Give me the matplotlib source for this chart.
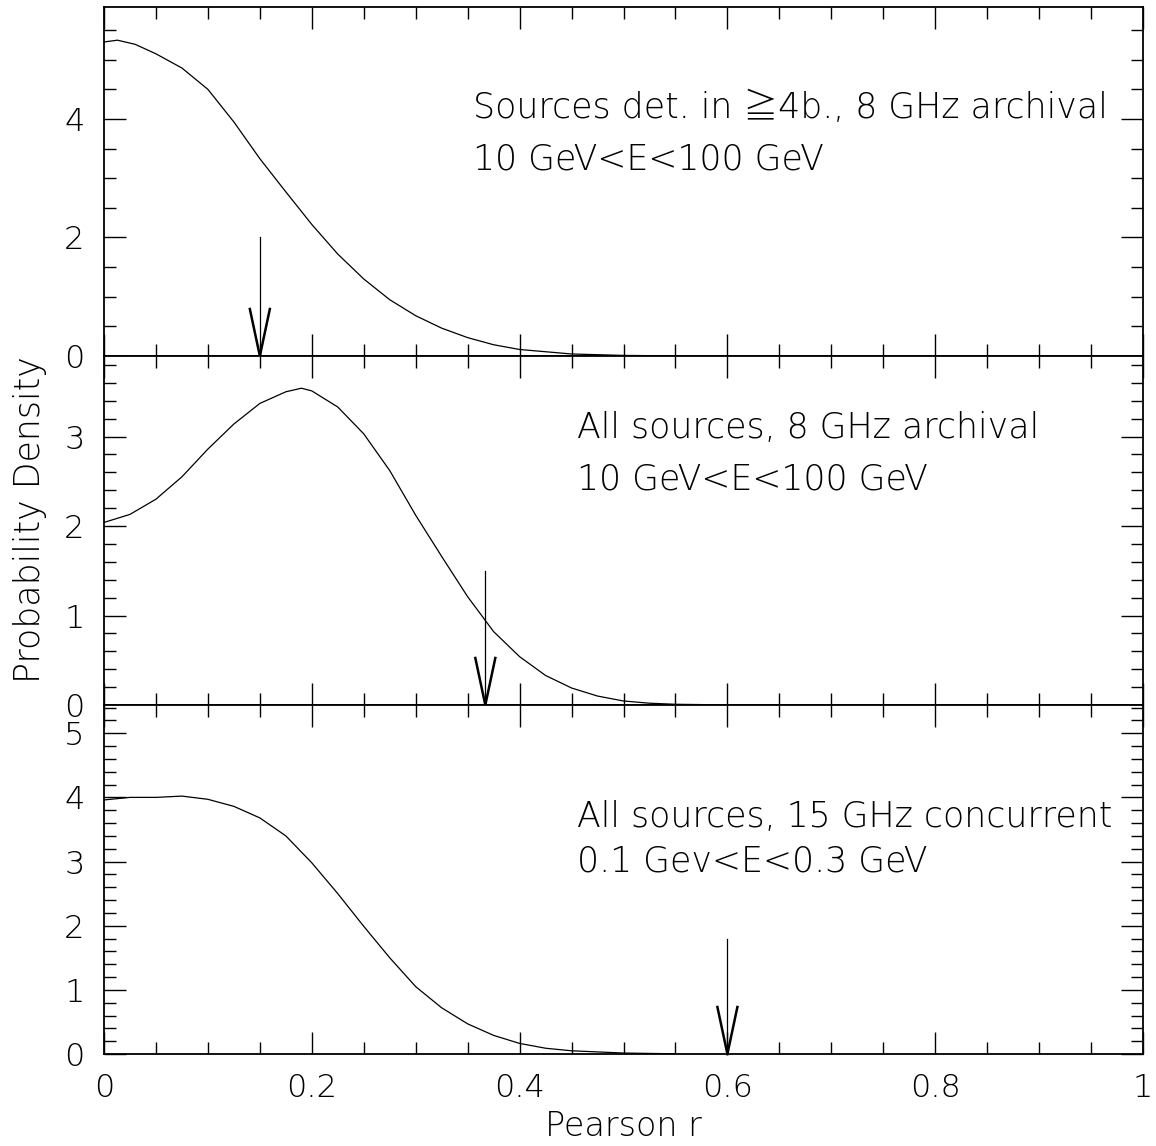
import numpy as np
import matplotlib
matplotlib.use('Agg')
import matplotlib.pyplot as plt
from matplotlib.ticker import MultipleLocator, FuncFormatter

# panel 1: sources detected in >=4 bands, 8 GHz archival
r_top = [0.0, 0.013, 0.03, 0.05, 0.075, 0.1, 0.125, 0.15, 0.175, 0.2, 0.225,
         0.25, 0.275, 0.3, 0.325, 0.35, 0.375, 0.4, 0.45, 0.5, 0.55]
p_top = [5.30, 5.33, 5.26, 5.10, 4.86, 4.50, 3.95, 3.33, 2.77, 2.22, 1.72,
         1.30, 0.95, 0.68, 0.47, 0.31, 0.19, 0.11, 0.034, 0.01, 0.002]

# panel 2: all sources, 8 GHz archival
r_mid = [0.0, 0.025, 0.05, 0.075, 0.1, 0.125, 0.15, 0.175, 0.19, 0.2, 0.225,
         0.25, 0.275, 0.3, 0.325, 0.35, 0.375, 0.4, 0.425, 0.45, 0.475, 0.5,
         0.525, 0.55, 0.6]
p_mid = [2.04, 2.13, 2.30, 2.55, 2.86, 3.14, 3.37, 3.50, 3.54, 3.51, 3.33,
         3.03, 2.62, 2.12, 1.66, 1.21, 0.82, 0.54, 0.33, 0.19, 0.10, 0.045,
         0.02, 0.008, 0.001]

# panel 3: all sources, 15 GHz concurrent
r_bot = [0.0, 0.025, 0.05, 0.075, 0.1, 0.125, 0.15, 0.175, 0.2, 0.225, 0.25,
         0.275, 0.3, 0.325, 0.35, 0.375, 0.4, 0.425, 0.45, 0.5, 0.55]
p_bot = [3.96, 4.00, 4.00, 4.02, 3.97, 3.86, 3.68, 3.40, 2.98, 2.50, 1.99,
         1.50, 1.05, 0.72, 0.47, 0.29, 0.165, 0.09, 0.05, 0.015, 0.003]

labels = [["Sources det. in \u22674b., 8 GHz archival", "10 GeV<E<100 GeV"],
          ["All sources, 8 GHz archival", "10 GeV<E<100 GeV"],
          ["All sources, 15 GHz concurrent", "0.1 Gev<E<0.3 GeV"]]
arrow_x = [0.15, 0.367, 0.6]
arrow_top = [2.0, 1.5, 1.79]
ymax = [5.89, 3.90, 5.44]
ymajor = [2, 1, 1]
yminor = [0.5, 0.2, 0.2]

plt.rcParams['font.family'] = ['DejaVu Sans', 'Noto Sans CJK JP']
plt.rcParams['font.weight'] = 200

fig = plt.figure(figsize=(11.56, 11.46), dpi=100)
W, H = 1156, 1146
left, right = 104, 1143
tops = [7, 356, 705]
h = 349

series = [(r_top, p_top), (r_mid, p_mid), (r_bot, p_bot)]
text_pos = [(473, [108, 160]), (577, [428, 480]), (577, [817, 862])]


def fmt(v, pos):
    return '%g' % round(v, 2)


axes = []
for i in range(3):
    ax = fig.add_axes([left / W, 1 - (tops[i] + h) / H, (right - left) / W, h / H])
    axes.append(ax)
    ax.plot(series[i][0], series[i][1], color='black', lw=0.9)
    ax.set_xlim(0, 1)
    ax.set_ylim(0, ymax[i])
    ax.xaxis.set_major_locator(MultipleLocator(0.2))
    ax.xaxis.set_minor_locator(MultipleLocator(0.05))
    ax.xaxis.set_major_formatter(FuncFormatter(fmt))
    ax.yaxis.set_major_locator(MultipleLocator(ymajor[i]))
    ax.yaxis.set_minor_locator(MultipleLocator(yminor[i]))
    ax.tick_params(which='both', direction='in', top=True, right=True, width=1.0)
    ax.tick_params(which='major', length=16, pad=14, labelsize=23)
    ax.tick_params(which='minor', length=8.5)
    for s in ax.spines.values():
        s.set_linewidth(1.3)
    if i < 2:
        ax.tick_params(labelbottom=False)
    tx, tys = text_pos[i]
    for line, ty in zip(labels[i], tys):
        fig.text(tx / W, 1 - ty / H, line, fontsize=25, fontweight=200,
                 va='center', ha='left')

# arrows: thin shaft, thicker V head with fixed pixel size
for i, ax in enumerate(axes):
    x = arrow_x[i]
    ax.plot([x, x], [0, arrow_top[i]], color='black', lw=0.9)
    tip = ax.transData.transform((x, 0))
    inv = ax.transData.inverted()
    for dx in (-10, 10):
        arm = inv.transform((tip[0] + dx, tip[1] + 47))
        ax.plot([x, arm[0]], [0, arm[1]], color='black', lw=1.8, clip_on=False)

fig.text((left + right) / 2 / W, 1 - 1126 / H, 'Pearson r', fontsize=24,
         fontweight=200, va='center', ha='center')
fig.text(30 / W, 1 - 520 / H, 'Probability Density', rotation=90, fontsize=25,
         fontweight=200, va='center', ha='center')

fig.savefig('out.png', dpi=100)
